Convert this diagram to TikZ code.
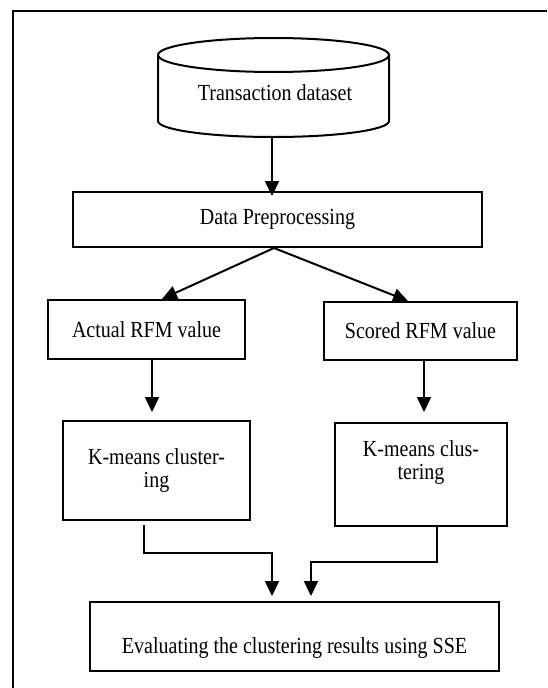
\documentclass[tikz,border=0pt]{standalone}
\usepackage{fontspec}
\setmainfont{Liberation Serif}[FakeStretch=0.87]
\usetikzlibrary{arrows.meta}
\begin{document}
\begin{tikzpicture}[x=1pt,y=-1pt,
  txt/.style={font=\fontsize{23}{23}\selectfont},
  box/.style={draw, line width=2pt, align=center, inner sep=0pt, txt},
  arr/.style={line width=2pt, -{Triangle[width=14pt,length=15pt]}}]
\useasboundingbox (0,0) rectangle (547,688);
% outer frame
\draw[line width=2pt] (13,688) -- (13,11) -- (547,11);
% cylinder
\draw[line width=2pt] (273.5,55) ellipse [x radius=115.5pt, y radius=17pt];
\draw[line width=2pt] (158,55) -- (158,121)
  arc[start angle=180, end angle=360, x radius=115.5pt, y radius=16pt] -- (389,55);
\node[txt] (db) at (275,93) {Transaction dataset};
\coordinate (dbb) at (272,137);
% boxes
\node[box, minimum width=409pt, minimum height=55pt] (pre) at (277.5,219.5) {Data Preprocessing};
\node[box, minimum width=197pt, minimum height=59pt] (act) at (146.5,329.5) {Actual RFM value};
\node[box, minimum width=193pt, minimum height=58pt] (sc) at (420.5,331) {Scored RFM value};
\node[box, minimum width=187pt, minimum height=99pt] (km1) at (156.5,470.5) {K-means cluster-\\ing};
\node[box, minimum width=172pt, minimum height=103pt] (km2) at (421,474.5) {K-means clus-\\tering\\\strut};
\node[box, minimum width=409pt, minimum height=69pt] (ev) at (294.5,636.5) {\strut\\Evaluating the clustering results using SSE};
% connectors
\draw[arr] (dbb) -- ([yshift=-5pt]dbb |- pre.north);
\draw[arr] ([xshift=-3.5pt]pre.south) -- ([xshift=15.5pt]act.north);
\draw[arr] ([xshift=-3.5pt]pre.south) -- ([xshift=-12.5pt]sc.north);
\draw[arr, shorten >=8pt] ([xshift=5.5pt]act.south) -- ([xshift=5.5pt]act.south |- km1.north);
\draw[arr, shorten >=10pt] ([xshift=3.5pt]sc.south) -- ([xshift=3.5pt]sc.south |- km2.north);
\draw[arr, shorten <=4pt] ([xshift=-12.5pt]km1.south) -- ++(0,32) -| ([xshift=-22.5pt,yshift=5pt]ev.north);
\draw[arr] ([xshift=16pt]km2.south) -- ++(0,35) -| ([xshift=16.5pt,yshift=5pt]ev.north);
\end{tikzpicture}
\end{document}
